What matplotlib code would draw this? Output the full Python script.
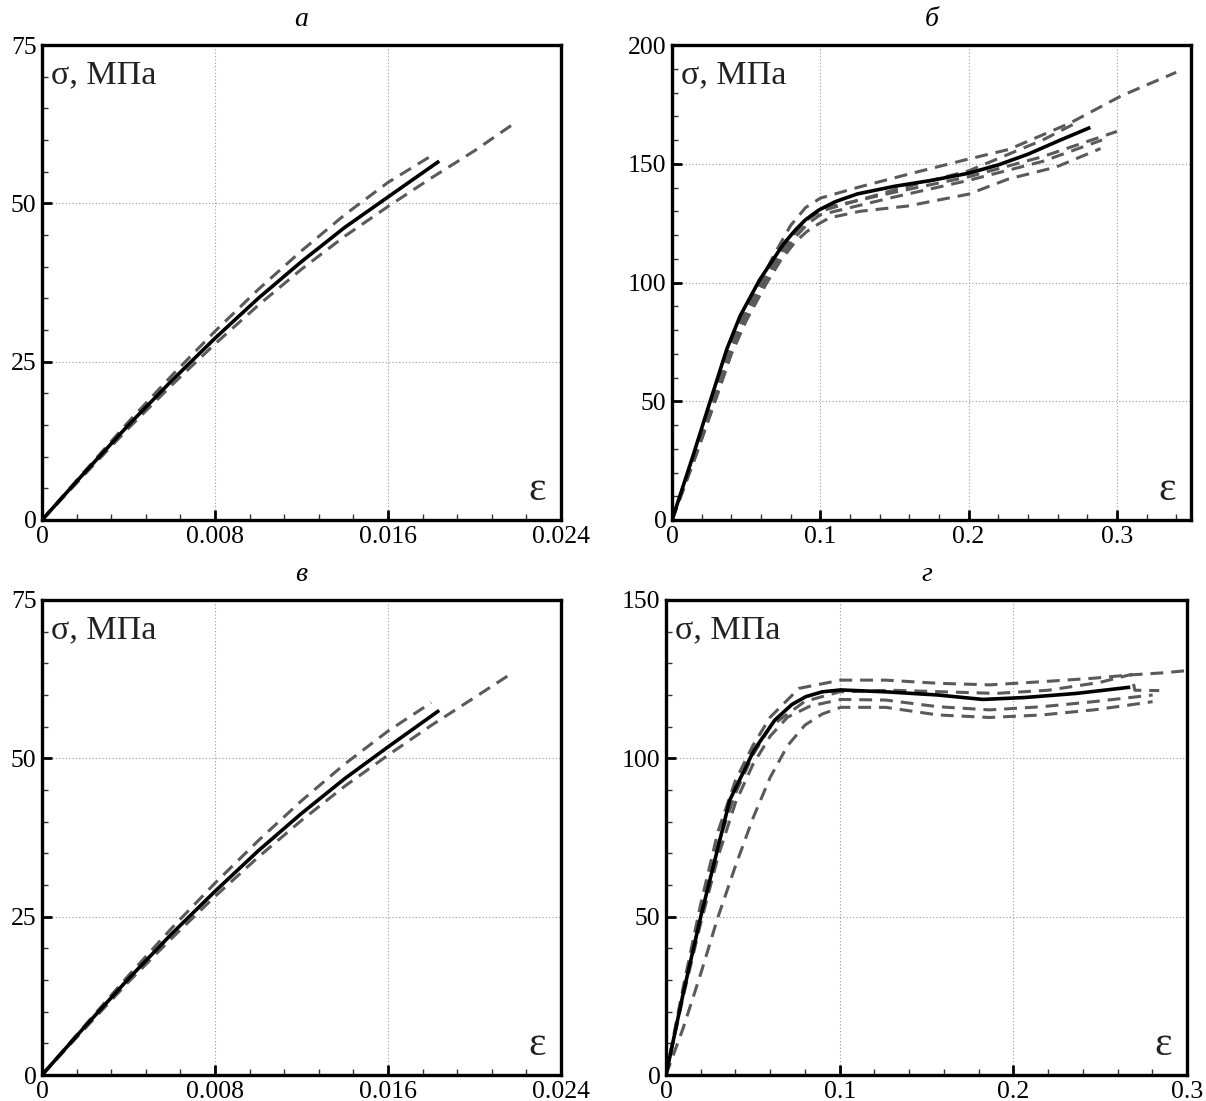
import matplotlib
matplotlib.use("Agg")
import matplotlib.pyplot as plt
from matplotlib.ticker import MultipleLocator, FixedFormatter, FixedLocator

plt.rcParams["font.family"] = ["Liberation Serif", "DejaVu Serif"]

# ---- panel а : strain / stress (MPa)
a_black_eps = [0, 0.002, 0.004, 0.006, 0.008, 0.010, 0.012, 0.014, 0.016, 0.0183]
a_black_sig = [0, 7.6, 15.0, 22.0, 28.7, 35.0, 40.8, 46.2, 51.0, 56.5]
a_dash1_eps = [0, 0.002, 0.004, 0.006, 0.008, 0.010, 0.012, 0.014, 0.016, 0.018]
a_dash1_sig = [0, 7.8, 15.5, 22.8, 29.8, 36.4, 42.5, 48.2, 53.3, 57.5]
a_dash2_eps = [0, 0.002, 0.004, 0.006, 0.008, 0.010, 0.012, 0.014, 0.016, 0.018, 0.020, 0.0217]
a_dash2_sig = [0, 7.3, 14.5, 21.3, 27.8, 33.9, 39.6, 44.8, 49.5, 54.0, 58.3, 62.3]

# ---- panel б
b_black_eps = [0, 0.014, 0.026, 0.037, 0.046, 0.059, 0.068, 0.075, 0.083, 0.090, 0.099,
               0.110, 0.125, 0.150, 0.175, 0.200, 0.220, 0.240, 0.262, 0.281]
b_black_sig = [0, 26.7, 50.5, 72, 86, 101, 109.5, 116, 122, 126.4, 130.5,
               134, 137.3, 140.5, 143, 146, 149.5, 154, 160, 165]
b_dash1_eps = [0, 0.015, 0.027, 0.038, 0.048, 0.060, 0.070, 0.080, 0.090, 0.100, 0.125,
               0.160, 0.200, 0.227, 0.268, 0.303, 0.340]
b_dash1_sig = [0, 27, 50, 71, 86, 101, 113, 124, 131.5, 135.5, 140,
               145.7, 152, 156, 167, 178.6, 188.5]
b_dash2_eps = [0, 0.016, 0.029, 0.040, 0.050, 0.063, 0.073, 0.083, 0.091, 0.097, 0.106,
               0.127, 0.159, 0.200, 0.227, 0.259, 0.289]
b_dash2_sig = [0, 27, 50, 70, 84, 99, 109, 117, 121.5, 124, 127.2,
               130, 132.2, 137.2, 143.6, 148.6, 156.4]
b_dash3_eps = [0, 0.015, 0.028, 0.039, 0.049, 0.062, 0.072, 0.082, 0.092, 0.100, 0.150,
               0.200, 0.250, 0.300]
b_dash3_sig = [0, 27, 50, 71, 85, 100, 111, 120, 127, 131, 138, 144.5, 153, 163.6]
b_dash4_eps = [0, 0.015, 0.028, 0.039, 0.049, 0.061, 0.071, 0.081, 0.090, 0.100, 0.150,
               0.200, 0.250, 0.275]
b_dash4_sig = [0, 27, 50, 71, 85, 100, 111, 120, 126, 130, 139, 147, 160, 168]
b_dash5_eps = [0, 0.016, 0.029, 0.040, 0.050, 0.063, 0.073, 0.083, 0.092, 0.100, 0.150,
               0.200, 0.250, 0.290]
b_dash5_sig = [0, 27, 50, 70, 84, 99, 110, 119, 125, 128.5, 136, 143, 151, 160]

# ---- panel в
v_black_eps = [0, 0.002, 0.004, 0.006, 0.008, 0.010, 0.012, 0.014, 0.016, 0.0183]
v_black_sig = [0, 7.7, 15.2, 22.3, 29.0, 35.4, 41.3, 46.8, 51.8, 57.4]
v_dash1_eps = [0, 0.002, 0.004, 0.006, 0.008, 0.010, 0.012, 0.014, 0.016, 0.018]
v_dash1_sig = [0, 7.9, 15.7, 23.2, 30.3, 37.0, 43.3, 49.1, 54.3, 58.8]
v_dash2_eps = [0, 0.002, 0.004, 0.006, 0.008, 0.010, 0.012, 0.014, 0.016, 0.018, 0.020, 0.0218]
v_dash2_sig = [0, 7.4, 14.7, 21.6, 28.2, 34.4, 40.2, 45.6, 50.5, 55.2, 59.6, 63.6]

# ---- panel г
g_black_eps = [0, 0.010, 0.020, 0.030, 0.0367, 0.0507, 0.0627, 0.0725, 0.0806, 0.090, 0.1006,
               0.1265, 0.1565, 0.1824, 0.2064, 0.2363, 0.2663]
g_black_sig = [0, 26, 50, 72, 86.8, 102.6, 112.1, 117, 119.5, 121, 121.6,
               121, 120, 118.6, 119.2, 120.5, 122.4]
g_dash1_eps = [0, 0.010, 0.020, 0.030, 0.040, 0.050, 0.060, 0.0766, 0.1006, 0.1265, 0.1565,
               0.1864, 0.2164, 0.2463, 0.2663, 0.2862, 0.300]
g_dash1_sig = [0, 28, 54, 77, 93, 104, 113, 122.1, 124.7, 124.7, 123.7,
               123.2, 124.2, 125.3, 126.3, 127, 127.7]
g_dash2_eps = [0, 0.010, 0.020, 0.030, 0.040, 0.050, 0.060, 0.080, 0.100, 0.130, 0.160,
               0.190, 0.220, 0.250, 0.268, 0.270, 0.284]
g_dash2_sig = [0, 27, 51, 73, 89, 101, 110, 118, 121, 121.5, 121,
               120.5, 121.5, 124, 126.5, 121.5, 121.4]
g_dash3_eps = [0, 0.010, 0.020, 0.030, 0.040, 0.050, 0.060, 0.070, 0.083, 0.1006, 0.1265,
               0.1565, 0.1864, 0.2164, 0.2463, 0.2802]
g_dash3_sig = [0, 25, 48, 69, 86, 98, 107, 113, 116.5, 118.6, 118.4,
               116.3, 115.3, 116.3, 117.9, 120]
g_dash4_eps = [0, 0.010, 0.020, 0.030, 0.040, 0.050, 0.060, 0.070, 0.080, 0.090, 0.1006,
               0.1265, 0.1565, 0.1864, 0.2164, 0.2463, 0.2663, 0.2802]
g_dash4_sig = [0, 15, 32, 50, 66, 81, 94, 104, 110.5, 114, 116.1,
               116.1, 113.7, 112.9, 113.7, 115.3, 116.8, 117.9]

panels = [
    dict(rect=[42, 45, 519, 475], title="а", xmax=0.024, ymax=75,
         xmaj=0.008, xmin=0.0016, ymaj=25, ymin=5,
         xlabels=["0", "0.008", "0.016", "0.024"],
         black=(a_black_eps, a_black_sig),
         dashed=[(a_dash1_eps, a_dash1_sig), (a_dash2_eps, a_dash2_sig)]),
    dict(rect=[672, 45, 519, 475], title="б", xmax=0.35, ymax=200,
         xmaj=0.1, xmin=0.02, ymaj=50, ymin=10,
         xlabels=["0", "0.1", "0.2", "0.3"],
         black=(b_black_eps, b_black_sig),
         dashed=[(b_dash1_eps, b_dash1_sig), (b_dash2_eps, b_dash2_sig),
                 (b_dash3_eps, b_dash3_sig), (b_dash4_eps, b_dash4_sig),
                 (b_dash5_eps, b_dash5_sig)]),
    dict(rect=[42, 600, 519, 475], title="в", xmax=0.024, ymax=75,
         xmaj=0.008, xmin=0.0016, ymaj=25, ymin=5,
         xlabels=["0", "0.008", "0.016", "0.024"],
         black=(v_black_eps, v_black_sig),
         dashed=[(v_dash1_eps, v_dash1_sig), (v_dash2_eps, v_dash2_sig)]),
    dict(rect=[666, 600, 521, 475], title="г", xmax=0.3, ymax=150,
         xmaj=0.1, xmin=0.02, ymaj=50, ymin=10,
         xlabels=["0", "0.1", "0.2", "0.3"],
         black=(g_black_eps, g_black_sig),
         dashed=[(g_dash1_eps, g_dash1_sig), (g_dash2_eps, g_dash2_sig),
                 (g_dash3_eps, g_dash3_sig), (g_dash4_eps, g_dash4_sig)]),
]

W, H = 1206, 1101
fig = plt.figure(figsize=(W / 100, H / 100), dpi=100)

for p in panels:
    x0, y0, w, h = p["rect"]
    ax = fig.add_axes([x0 / W, 1 - (y0 + h) / H, w / W, h / H])

    for xs, ys in p["dashed"]:
        ax.plot(xs, ys, color="#5a5a5a", lw=2.2, ls=(0, (4.2, 2.6)), zorder=2)
    ax.plot(*p["black"], color="black", lw=2.6, zorder=3)

    ax.set_xlim(0, p["xmax"])
    ax.set_ylim(0, p["ymax"])
    nmaj = int(round(p["xmax"] / p["xmaj"] + 1e-9))
    ax.xaxis.set_major_locator(FixedLocator([i * p["xmaj"] for i in range(nmaj + 1)]))
    ax.xaxis.set_major_formatter(FixedFormatter(p["xlabels"]))
    ax.xaxis.set_minor_locator(MultipleLocator(p["xmin"]))
    ax.yaxis.set_major_locator(MultipleLocator(p["ymaj"]))
    ax.yaxis.set_minor_locator(MultipleLocator(p["ymin"]))

    ax.tick_params(which="both", direction="in", top=False, right=False,
                   labelsize=18.5, colors="black", pad=4)
    ax.tick_params(which="major", length=7, width=2.0)
    ax.tick_params(which="minor", length=4, width=1.0, color="#333333")
    for s in ax.spines.values():
        s.set_linewidth(2.4)

    ax.grid(True, which="major", ls=(0, (1, 2)), color="#999999", lw=0.8)
    ax.set_axisbelow(True)

    ax.set_title(p["title"], fontsize=20, style="italic", pad=14)
    ax.text(9 / w, 1 - 30 / h, "σ, МПа", transform=ax.transAxes,
            fontsize=24.5, va="center", ha="left", color="#222222")
    ax.text(1 - 24 / w, 30 / h, "ε", transform=ax.transAxes,
            fontsize=30, va="center", ha="center", color="#222222")

fig.savefig("out.png", dpi=100)
